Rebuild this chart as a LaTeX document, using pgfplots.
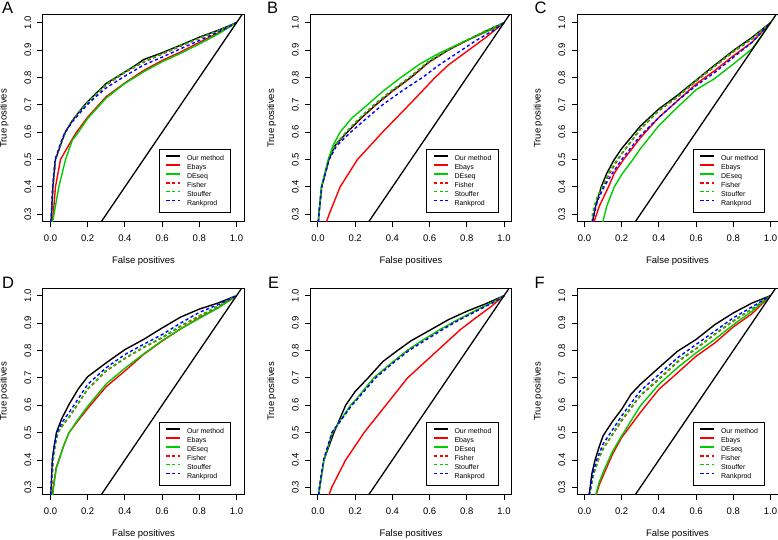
\documentclass[border=0pt]{standalone}
\usepackage{fontspec}
\setmainfont{Liberation Sans}
\usepackage{pgfplots}
\pgfplotsset{compat=1.18}
\definecolor{rred}{HTML}{FF0000}
\definecolor{rgreen}{HTML}{00CD00}
\definecolor{rblue}{HTML}{0000FF}
\pgfplotsset{
  ours/.style={black, line width=1.4pt, line join=round},
  ebays/.style={rred, line width=1.4pt, line join=round},
  deseq/.style={rgreen, line width=1.4pt, line join=round},
  fisher/.style={rred, line width=1.4pt, dash pattern=on 3.2pt off 2.6pt},
  stouffer/.style={rgreen, line width=1.4pt, dash pattern=on 3.2pt off 2.6pt},
  rankprod/.style={rblue, line width=1.4pt, dash pattern=on 3.2pt off 2.6pt},
  rocpanel/.style={
    scale only axis, width=201pt, height=207pt,
    xmin=-0.04, xmax=1.04, ymin=0.272, ymax=1.028,
    axis line style={line width=1pt},
    tick style={black, line width=0.9pt},
    tick align=outside, tick pos=left, major tick length=5.5pt,
    xtick={0,0.2,0.4,0.6,0.8,1}, xticklabels={0.0,0.2,0.4,0.6,0.8,1.0},
    ytick={0.3,0.4,0.5,0.6,0.7,0.8,0.9,1}, yticklabels={0.3,0.4,0.5,0.6,0.7,0.8,0.9,1.0},
    tick label style={font=\fontsize{9.5}{11}\selectfont, inner sep=0pt},
    xticklabel style={anchor=north},
    yticklabel style={rotate=90, anchor=south},
    xticklabel shift=7pt, yticklabel shift=6pt,
    xlabel={False positives}, ylabel={True positives},
    label style={font=\fontsize{9.5}{11}\selectfont, inner sep=0pt},
    xlabel style={at={(axis description cs:0.5,-0.188)}, anchor=center},
    ylabel style={at={(axis description cs:-0.193,0.5)}, anchor=center},
    legend style={at={(0.935,0.0435)}, anchor=south east,
      font=\fontsize{7}{8.9}\selectfont, draw=black, line width=0.9pt, fill=white,
      inner xsep=6.5pt, inner ysep=6pt, row sep=2.2pt, column sep=6pt,
      nodes={inner sep=0pt, text height=5.2pt, text depth=1.5pt}},
    legend image code/.code={\draw[#1] (0pt,2.5pt) -- (14pt,2.5pt);},
    legend cell align=left,
  }
}
\newcommand{\rocleg}{\legend{Our method,Ebays,DEseq,Fisher,Stouffer,Rankprod}}
\newcommand{\diag}{\addplot[black, line width=1.3pt, forget plot] coordinates {(0,0) (1.1,1.1)};}
\begin{document}
\begin{tikzpicture}
\useasboundingbox (0,0) rectangle (778pt,540pt);
% ---------------- A
\begin{axis}[rocpanel, at={(43pt,318pt)}, anchor=south west]
\addplot[ours] coordinates {(0,0.25)(0.006,0.3)(0.013,0.4)(0.027,0.5)(0.063,0.57)(0.08,0.6)(0.12,0.645)(0.19,0.705)(0.25,0.745)(0.3,0.778)(0.4,0.82)(0.47,0.85)(0.5,0.865)(0.6,0.89)(0.7,0.918)(0.8,0.947)(0.9,0.972)(1,1)};
\addplot[ebays] coordinates {(0.002,0.25)(0.015,0.3)(0.027,0.4)(0.054,0.5)(0.113,0.57)(0.14,0.6)(0.2,0.655)(0.3,0.73)(0.4,0.78)(0.5,0.825)(0.6,0.862)(0.7,0.893)(0.8,0.928)(0.9,0.962)(1,1)};
\addplot[deseq] coordinates {(0.006,0.25)(0.019,0.3)(0.045,0.4)(0.081,0.5)(0.117,0.57)(0.15,0.6)(0.2,0.65)(0.3,0.725)(0.4,0.778)(0.5,0.82)(0.6,0.857)(0.7,0.888)(0.8,0.922)(0.9,0.958)(1,1)};
\addplot[fisher] coordinates {(0,0.25)(0.006,0.3)(0.013,0.4)(0.027,0.5)(0.063,0.57)(0.08,0.6)(0.12,0.643)(0.19,0.7)(0.25,0.74)(0.3,0.772)(0.4,0.818)(0.5,0.855)(0.6,0.885)(0.7,0.914)(0.8,0.943)(0.9,0.97)(1,1)};
\addplot[stouffer] coordinates {(0,0.25)(0.006,0.3)(0.013,0.4)(0.027,0.5)(0.063,0.57)(0.08,0.6)(0.12,0.644)(0.19,0.702)(0.25,0.742)(0.3,0.775)(0.4,0.82)(0.5,0.858)(0.6,0.887)(0.7,0.916)(0.8,0.944)(0.9,0.97)(1,1)};
\addplot[rankprod] coordinates {(0,0.25)(0.005,0.3)(0.012,0.4)(0.025,0.5)(0.06,0.57)(0.078,0.6)(0.12,0.64)(0.19,0.695)(0.25,0.733)(0.3,0.762)(0.4,0.805)(0.5,0.845)(0.6,0.874)(0.7,0.905)(0.8,0.935)(0.9,0.965)(1,1)};
\diag
\rocleg
\end{axis}
% ---------------- B
\begin{axis}[rocpanel, at={(310.5pt,318pt)}, anchor=south west]
\addplot[ours] coordinates {(0,0.25)(0.005,0.3)(0.02,0.4)(0.059,0.5)(0.09,0.55)(0.158,0.6)(0.23,0.65)(0.311,0.7)(0.4,0.75)(0.5,0.8)(0.6,0.858)(0.7,0.9)(0.8,0.935)(0.9,0.968)(1,1)};
\addplot[ebays] coordinates {(0.04,0.25)(0.047,0.275)(0.06,0.3)(0.119,0.4)(0.212,0.5)(0.347,0.6)(0.49,0.7)(0.63,0.8)(0.7,0.845)(0.8,0.895)(0.9,0.945)(1,1)};
\addplot[deseq] coordinates {(0,0.25)(0.005,0.3)(0.018,0.4)(0.055,0.5)(0.08,0.55)(0.119,0.6)(0.18,0.65)(0.266,0.7)(0.35,0.75)(0.446,0.8)(0.55,0.85)(0.65,0.888)(0.75,0.92)(0.85,0.95)(0.95,0.98)(1,1)};
\addplot[fisher] coordinates {(0,0.25)(0.005,0.3)(0.02,0.4)(0.058,0.5)(0.09,0.55)(0.155,0.6)(0.228,0.65)(0.31,0.7)(0.4,0.75)(0.5,0.8)(0.6,0.857)(0.7,0.9)(0.8,0.935)(0.9,0.968)(1,1)};
\addplot[stouffer] coordinates {(0,0.25)(0.005,0.3)(0.02,0.4)(0.058,0.5)(0.088,0.55)(0.15,0.6)(0.22,0.65)(0.3,0.7)(0.39,0.75)(0.49,0.8)(0.59,0.857)(0.7,0.902)(0.8,0.937)(0.9,0.97)(1,1)};
\addplot[rankprod] coordinates {(0,0.25)(0.005,0.3)(0.02,0.4)(0.06,0.5)(0.1,0.55)(0.176,0.6)(0.26,0.65)(0.347,0.7)(0.45,0.75)(0.562,0.8)(0.65,0.845)(0.75,0.89)(0.85,0.935)(0.95,0.975)(1,1)};
\diag
\rocleg
\end{axis}
% ---------------- C
\begin{axis}[rocpanel, at={(577pt,318pt)}, anchor=south west]
\addplot[ours] coordinates {(0.04,0.25)(0.045,0.28)(0.06,0.33)(0.09,0.4)(0.12,0.45)(0.16,0.5)(0.2,0.54)(0.3,0.622)(0.4,0.685)(0.5,0.735)(0.6,0.79)(0.7,0.845)(0.8,0.898)(0.9,0.946)(1,1)};
\addplot[ebays] coordinates {(0.045,0.25)(0.05,0.27)(0.08,0.33)(0.129,0.4)(0.16,0.45)(0.21,0.5)(0.3,0.579)(0.4,0.654)(0.5,0.715)(0.6,0.776)(0.7,0.825)(0.8,0.879)(0.9,0.928)(1,1)};
\addplot[deseq] coordinates {(0.095,0.25)(0.098,0.27)(0.12,0.33)(0.16,0.4)(0.2,0.445)(0.26,0.5)(0.3,0.539)(0.4,0.624)(0.5,0.691)(0.6,0.755)(0.7,0.796)(0.8,0.849)(0.9,0.904)(0.95,0.95)(1,1)};
\addplot[fisher] coordinates {(0.04,0.25)(0.045,0.28)(0.065,0.35)(0.1,0.4)(0.135,0.45)(0.18,0.5)(0.2,0.52)(0.3,0.61)(0.4,0.678)(0.5,0.728)(0.6,0.786)(0.7,0.84)(0.8,0.893)(0.9,0.94)(1,1)};
\addplot[stouffer] coordinates {(0.04,0.25)(0.042,0.3)(0.06,0.35)(0.095,0.4)(0.13,0.45)(0.175,0.5)(0.2,0.522)(0.3,0.612)(0.4,0.68)(0.5,0.73)(0.6,0.788)(0.7,0.842)(0.8,0.895)(0.9,0.942)(1,1)};
\addplot[rankprod] coordinates {(0.04,0.25)(0.045,0.28)(0.07,0.35)(0.105,0.4)(0.15,0.45)(0.2,0.5)(0.3,0.587)(0.4,0.654)(0.5,0.715)(0.6,0.77)(0.7,0.818)(0.8,0.873)(0.9,0.928)(1,1)};
\diag
\rocleg
\end{axis}
% ---------------- D
\begin{axis}[rocpanel, at={(43pt,45pt)}, anchor=south west]
\addplot[ours] coordinates {(0,0.25)(0.004,0.3)(0.01,0.4)(0.02,0.45)(0.032,0.5)(0.06,0.55)(0.1,0.603)(0.15,0.66)(0.2,0.704)(0.3,0.755)(0.4,0.803)(0.5,0.84)(0.6,0.882)(0.7,0.922)(0.8,0.951)(0.9,0.973)(1,1)};
\addplot[ebays] coordinates {(0.008,0.25)(0.015,0.3)(0.03,0.37)(0.045,0.4)(0.07,0.45)(0.1,0.5)(0.15,0.545)(0.2,0.588)(0.3,0.668)(0.4,0.725)(0.5,0.785)(0.6,0.834)(0.7,0.879)(0.8,0.919)(0.9,0.955)(1,1)};
\addplot[deseq] coordinates {(0.01,0.25)(0.017,0.3)(0.032,0.37)(0.047,0.4)(0.07,0.45)(0.1,0.5)(0.15,0.55)(0.2,0.596)(0.3,0.678)(0.4,0.735)(0.5,0.787)(0.6,0.836)(0.7,0.879)(0.8,0.917)(0.9,0.955)(1,1)};
\addplot[fisher] coordinates {(0,0.25)(0.006,0.3)(0.015,0.4)(0.025,0.45)(0.04,0.5)(0.07,0.53)(0.1,0.555)(0.2,0.658)(0.3,0.725)(0.4,0.77)(0.5,0.81)(0.6,0.846)(0.7,0.888)(0.8,0.925)(0.9,0.961)(1,1)};
\addplot[stouffer] coordinates {(0,0.25)(0.006,0.3)(0.015,0.4)(0.025,0.45)(0.04,0.5)(0.07,0.532)(0.1,0.558)(0.2,0.66)(0.3,0.727)(0.4,0.772)(0.5,0.812)(0.6,0.848)(0.7,0.89)(0.8,0.927)(0.9,0.962)(1,1)};
\addplot[rankprod] coordinates {(0,0.25)(0.004,0.3)(0.01,0.4)(0.02,0.45)(0.035,0.5)(0.065,0.54)(0.1,0.573)(0.2,0.676)(0.3,0.737)(0.4,0.785)(0.5,0.822)(0.6,0.858)(0.7,0.9)(0.8,0.939)(0.9,0.967)(1,1)};
\diag
\rocleg
\end{axis}
% ---------------- E
\begin{axis}[rocpanel, at={(310.5pt,45pt)}, anchor=south west]
\addplot[ours] coordinates {(0,0.25)(0.009,0.3)(0.032,0.4)(0.086,0.5)(0.149,0.6)(0.2,0.65)(0.27,0.7)(0.35,0.76)(0.428,0.8)(0.5,0.835)(0.607,0.876)(0.7,0.912)(0.8,0.943)(0.9,0.97)(1,1)};
\addplot[ebays] coordinates {(0.055,0.25)(0.059,0.272)(0.074,0.3)(0.149,0.4)(0.248,0.5)(0.365,0.6)(0.482,0.7)(0.643,0.8)(0.765,0.876)(0.85,0.92)(0.93,0.96)(1,1)};
\addplot[deseq] coordinates {(0,0.25)(0.009,0.3)(0.032,0.4)(0.077,0.5)(0.175,0.6)(0.2,0.617)(0.3,0.7)(0.4,0.757)(0.48,0.8)(0.55,0.832)(0.66,0.878)(0.75,0.912)(0.85,0.947)(0.95,0.98)(1,1)};
\addplot[fisher] coordinates {(0,0.25)(0.009,0.3)(0.032,0.4)(0.077,0.5)(0.18,0.6)(0.2,0.615)(0.305,0.7)(0.4,0.755)(0.482,0.8)(0.55,0.83)(0.661,0.876)(0.75,0.91)(0.85,0.945)(0.95,0.98)(1,1)};
\addplot[stouffer] coordinates {(0,0.25)(0.009,0.3)(0.032,0.4)(0.077,0.5)(0.18,0.6)(0.2,0.615)(0.305,0.7)(0.4,0.755)(0.482,0.8)(0.55,0.83)(0.661,0.876)(0.75,0.91)(0.85,0.945)(0.95,0.98)(1,1)};
\addplot[rankprod] coordinates {(0,0.25)(0.008,0.3)(0.03,0.4)(0.075,0.5)(0.182,0.6)(0.2,0.613)(0.31,0.7)(0.4,0.752)(0.49,0.8)(0.56,0.83)(0.67,0.876)(0.75,0.908)(0.85,0.943)(0.95,0.978)(1,1)};
\diag
\rocleg
\end{axis}
% ---------------- F
\begin{axis}[rocpanel, at={(577pt,45pt)}, anchor=south west]
\addplot[ours] coordinates {(0.022,0.25)(0.027,0.28)(0.04,0.35)(0.057,0.4)(0.08,0.45)(0.1,0.488)(0.15,0.54)(0.2,0.585)(0.25,0.64)(0.3,0.676)(0.4,0.737)(0.5,0.797)(0.6,0.84)(0.7,0.894)(0.8,0.937)(0.9,0.973)(1,1)};
\addplot[ebays] coordinates {(0.058,0.25)(0.062,0.27)(0.08,0.31)(0.1,0.342)(0.15,0.42)(0.2,0.482)(0.3,0.573)(0.4,0.658)(0.5,0.718)(0.6,0.779)(0.7,0.827)(0.8,0.886)(0.9,0.934)(1,1)};
\addplot[deseq] coordinates {(0.055,0.25)(0.059,0.27)(0.08,0.32)(0.1,0.355)(0.15,0.43)(0.2,0.488)(0.3,0.597)(0.4,0.676)(0.5,0.737)(0.6,0.791)(0.7,0.84)(0.8,0.894)(0.9,0.943)(1,1)};
\addplot[fisher] coordinates {(0.025,0.25)(0.03,0.28)(0.05,0.35)(0.075,0.4)(0.1,0.44)(0.2,0.543)(0.3,0.634)(0.4,0.694)(0.5,0.757)(0.6,0.806)(0.7,0.858)(0.8,0.907)(0.9,0.951)(1,1)};
\addplot[stouffer] coordinates {(0.025,0.25)(0.03,0.28)(0.05,0.35)(0.074,0.4)(0.1,0.442)(0.2,0.547)(0.3,0.637)(0.4,0.697)(0.5,0.76)(0.6,0.808)(0.7,0.86)(0.8,0.909)(0.9,0.952)(1,1)};
\addplot[rankprod] coordinates {(0.02,0.25)(0.027,0.28)(0.045,0.35)(0.065,0.4)(0.1,0.458)(0.2,0.561)(0.3,0.652)(0.4,0.712)(0.5,0.773)(0.6,0.822)(0.7,0.87)(0.8,0.919)(0.9,0.959)(1,1)};
\diag
\rocleg
\end{axis}
% ---------------- panel letters
\node[anchor=north west, inner sep=0pt, font=\fontsize{16.5}{16.5}\selectfont] at (2pt,538pt) {A};
\node[anchor=north west, inner sep=0pt, font=\fontsize{16.5}{16.5}\selectfont] at (267pt,538pt) {B};
\node[anchor=north west, inner sep=0pt, font=\fontsize{16.5}{16.5}\selectfont] at (534.5pt,538pt) {C};
\node[anchor=north west, inner sep=0pt, font=\fontsize{16.5}{16.5}\selectfont] at (2pt,262.7pt) {D};
\node[anchor=north west, inner sep=0pt, font=\fontsize{16.5}{16.5}\selectfont] at (268pt,262.7pt) {E};
\node[anchor=north west, inner sep=0pt, font=\fontsize{16.5}{16.5}\selectfont] at (534.5pt,262.7pt) {F};
\end{tikzpicture}
\end{document}
